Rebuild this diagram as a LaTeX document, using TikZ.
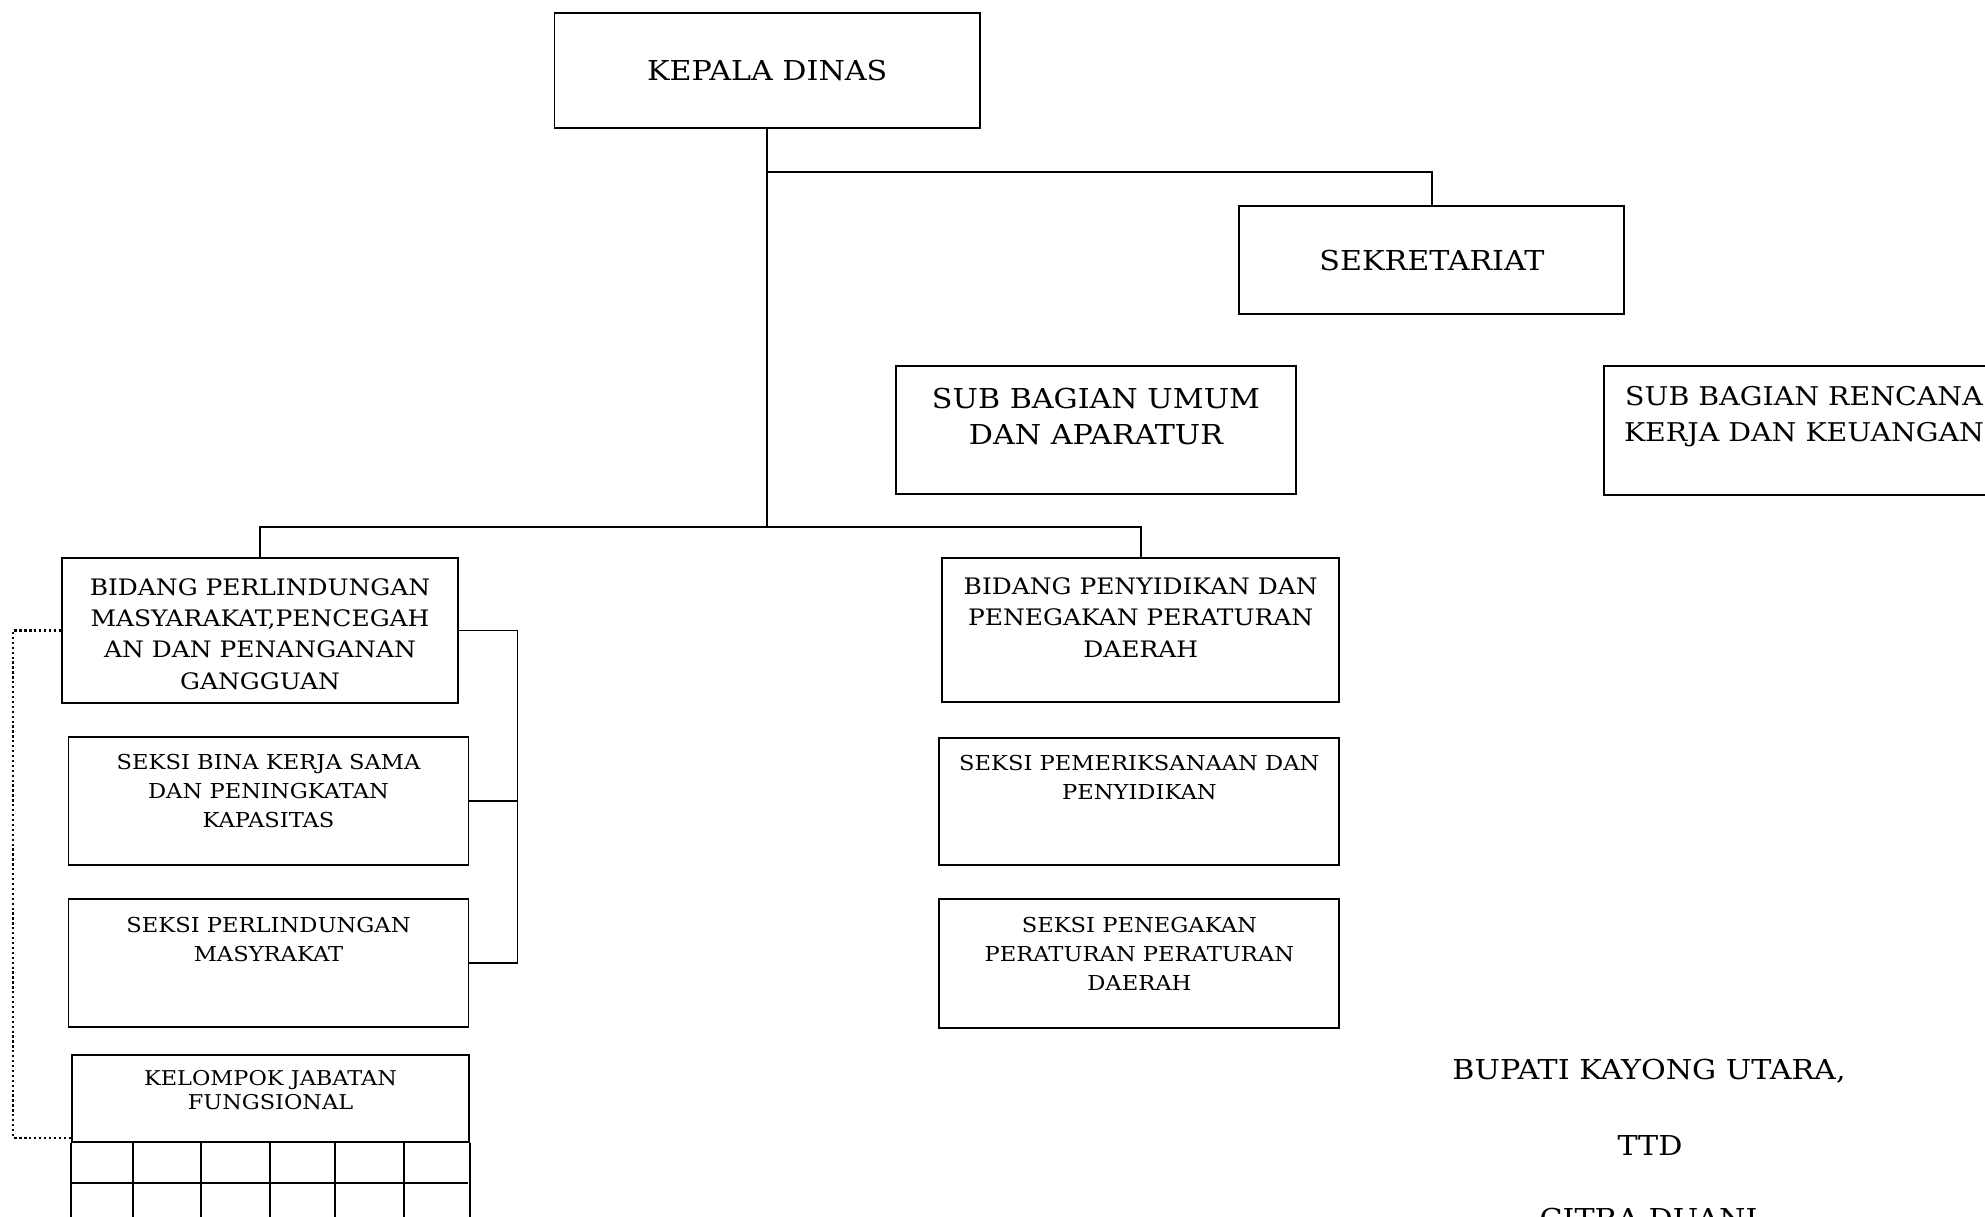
\documentclass[tikz,border=0pt]{standalone}
\usepackage{fontspec}
\setmainfont{DejaVu Serif}[FakeStretch=1.1]
\usetikzlibrary{calc}

\newcommand{\boxtop}[4]{\parbox[c][#2][t]{#1}{\centering\rule{0pt}{#3}#4}}

\begin{document}
\begin{tikzpicture}[
  every node/.style={inner sep=0pt},
  line width=1.1pt,
  box/.style={draw, line width=1.1pt},
  bigtxt/.style={font=\fontsize{15.6}{20.9}\selectfont},
  renctxt/.style={font=\fontsize{14.7}{20.2}\selectfont},
  bidtxt/.style={font=\fontsize{12.9}{17.9}\selectfont},
  seksitxt/.style={font=\fontsize{11.7}{16.3}\selectfont},
  jaftxt/.style={font=\fontsize{11.6}{13.8}\selectfont},
  dotline/.style={line width=1.3pt, dash pattern=on 1.3pt off 1.5pt}
]
\useasboundingbox (0,0) rectangle (39.7,-24.34);
\clip (0,0) rectangle (39.7,-24.34);

\node[box, bigtxt, minimum width=8.51cm, minimum height=2.306cm] (kadis) at (15.345,-1.407) {KEPALA DINAS};
\node[box, bigtxt, minimum width=7.698cm, minimum height=2.152cm] (sekr) at (28.637,-5.204) {SEKRETARIAT};
\node[box, bigtxt] (umum) at (21.92,-8.603) {\boxtop{8cm}{2.566cm}{0.84cm}{SUB BAGIAN UMUM\\DAN APARATUR}};
\node[box, renctxt] (renc) at (36.08,-8.61) {\boxtop{8cm}{2.58cm}{0.79cm}{SUB BAGIAN RENCANA\\KERJA DAN KEUANGAN}};

\node[box, bidtxt, align=center, minimum width=7.92cm, minimum height=2.90cm] (bid1) at (5.20,-12.61) {\rule{0pt}{13.5pt}BIDANG PERLINDUNGAN\\MASYARAKAT,PENCEGAH\\AN DAN PENANGANAN\\GANGGUAN};
\node[box, bidtxt] (bid2) at (22.813,-12.606) {\boxtop{7.946cm}{2.88cm}{0.72cm}{BIDANG PENYIDIKAN DAN\\PENEGAKAN PERATURAN\\DAERAH}};
\node[box, seksitxt] (bina) at (5.37,-16.015) {\boxtop{8cm}{2.56cm}{0.66cm}{SEKSI BINA KERJA SAMA\\DAN PENINGKATAN\\KAPASITAS}};
\node[box, seksitxt] (perl) at (5.37,-19.256) {\boxtop{8cm}{2.556cm}{0.67cm}{SEKSI PERLINDUNGAN\\MASYRAKAT}};
\node[box, seksitxt] (riks) at (22.787,-16.027) {\boxtop{8cm}{2.546cm}{0.66cm}{SEKSI PEMERIKSANAAN DAN\\PENYIDIKAN}};
\node[box, seksitxt] (tegak) at (22.787,-19.27) {\boxtop{8cm}{2.568cm}{0.67cm}{SEKSI PENEGAKAN\\PERATURAN PERATURAN\\DAERAH}};
\node[box, jaftxt] (jaf) at (5.41,-21.964) {\boxtop{7.95cm}{1.74cm}{0.61cm}{KELOMPOK JABATAN\\FUNGSIONAL}};

\draw (jaf.south west) -- ++(0,-2) (jaf.south east) -- ++(0,-2);
\draw ($(jaf.south west)+(0,-0.8)$) -- ++(7.95,0);
\foreach \dx in {1.24,2.60,3.98,5.28,6.66}
  \draw ($(jaf.south west)+(\dx,0)$) -- ++(0,-2);

\coordinate (hub) at (15.345,-10.534);
\coordinate (sekrjoint) at (15.345,-3.444);
\draw (kadis.south) -- (hub);
\draw (sekrjoint) -| (sekr.north);
\draw (bid1.north) |- (hub) -| (bid2.north);

\draw (bid1.east) -- ++(1.17,0) coordinate (brk) |- (perl.east);
\draw (bina.east) -- (bina.east -| brk);
\draw[dotline] (bid1.west) -- ++(-0.955,0) |- ($(jaf.south west)+(0,0.1)$);

\node[bigtxt, anchor=base] (bup) at (32.98,-21.58) {BUPATI KAYONG UTARA,};
\node[bigtxt, anchor=base] (ttd) at (33.0,-23.10) {TTD};
\node[bigtxt, anchor=base] (nama) at (32.97,-24.56) {CITRA DUANI};
\end{tikzpicture}
\end{document}
